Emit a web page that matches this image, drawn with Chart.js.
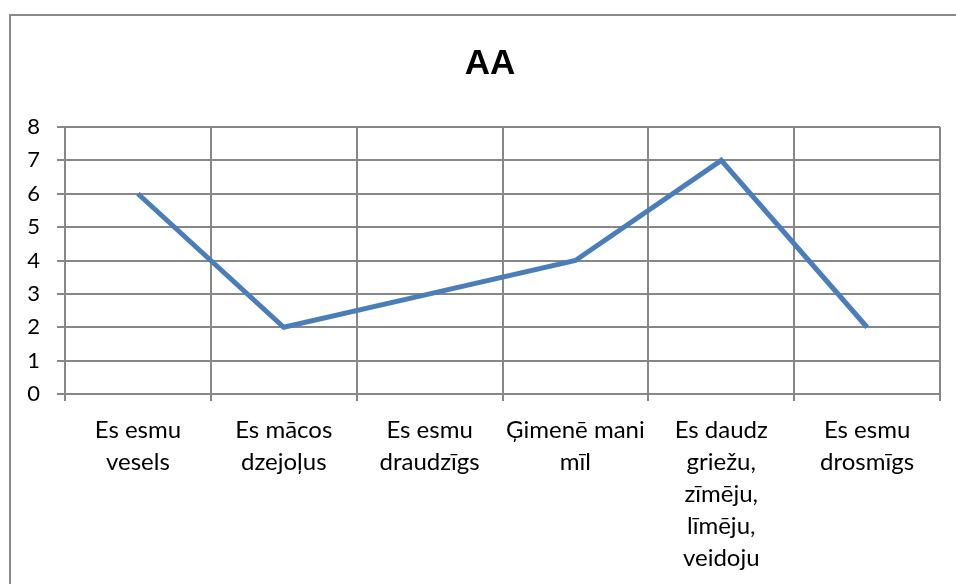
<!DOCTYPE html>
<html>
<head>
<meta charset="utf-8">
<script src="https://cdn.jsdelivr.net/npm/chart.js@4/dist/chart.umd.min.js"></script>
<style>
  html, body { margin: 0; padding: 0; background: #fff; overflow: hidden; }
  #wrap { position: relative; width: 956px; height: 584px; overflow: hidden; }
  #frame { position: absolute; left: 9px; top: 14px; width: 1000px; height: 1000px; border: 2px solid #8a8a8a; }
  canvas { position: absolute; left: 0; top: 0; }
</style>
</head>
<body>
<div id="wrap">
  <div id="frame"></div>
  <canvas id="aa" width="980" height="584"></canvas>
</div>
<script>
// categories (multi-line as in the picture)
var categories = [
  ["Es esmu", "vesels"],
  ["Es mācos", "dzejoļus"],
  ["Es esmu", "draudzīgs"],
  ["Ģimenē mani", "mīl"],
  ["Es daudz", "griežu,", "zīmēju,", "līmēju,", "veidoju"],
  ["Es esmu", "drosmīgs"]
];
var values = [6, 2, 3, 4, 7, 2];
var yMin = 0, yMax = 8, yStep = 1;

var gridColor = "#878787";
var fontFam = "Lato, 'Open Sans', sans-serif";

new Chart("aa", {
  type: "line",
  data: {
    labels: categories,
    datasets: [{
      label: "AA",
      data: values,
      borderColor: "#4A7EBB",
      borderWidth: 5,
      pointRadius: 0,
      tension: 0,
      fill: false
    }]
  },
  options: {
    responsive: false,
    animation: false,
    layout: { padding: 0 },
    plugins: {
      legend: { display: false },
      tooltip: { enabled: false },
      title: {
        display: true,
        text: "AA",
        color: "#000",
        font: { family: "'Liberation Sans', Arial, sans-serif", size: 35, weight: "bold", lineHeight: 1.2 },
        padding: { top: 43, bottom: 42 }
      }
    },
    scales: {
      x: {
        offset: true,
        grid: { offset: true, color: gridColor, lineWidth: 2, tickLength: 7, drawTicks: true },
        border: { color: gridColor, width: 2 },
        ticks: {
          color: "#000",
          maxRotation: 0,
          autoSkip: false,
          padding: 13,
          font: { family: fontFam, size: 24, lineHeight: 1.333 }
        },
        afterFit: function (s) { s.height = 190; }
      },
      y: {
        min: yMin,
        max: yMax,
        grid: { color: gridColor, lineWidth: 2, tickLength: 8 },
        border: { color: gridColor, width: 2 },
        ticks: {
          stepSize: yStep,
          color: "#000",
          padding: 17,
          font: { family: fontFam, size: 22 }
        },
        afterFit: function (s) { s.width = 65; }
      },
      // empty right-hand spacer so the title stays centred on the frame
      yRight: {
        position: "right",
        min: yMin,
        max: yMax,
        grid: { display: false, drawTicks: false },
        border: { display: false },
        ticks: { display: false },
        afterFit: function (s) { s.width = 40; }
      }
    }
  }
});
</script>
</body>
</html>
